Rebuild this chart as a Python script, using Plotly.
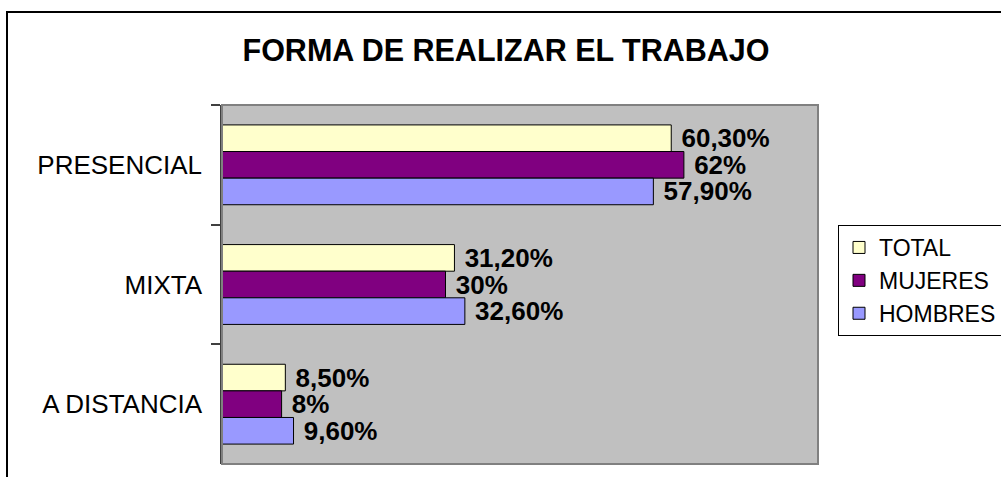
import plotly.graph_objects as go

categories = ["PRESENCIAL", "MIXTA", "A DISTANCIA"]
series_names = ["TOTAL", "MUJERES", "HOMBRES"]
total = [60.3, 31.2, 8.5]
mujeres = [62, 30, 8]
hombres = [57.9, 32.6, 9.6]
colors = ["#FFFFCC", "#800080", "#9999FF"]


def fmt(v):
    if float(v).is_integer():
        s = f"{int(v)}%"
    else:
        s = f"{v:.2f}".replace(".", ",") + "%"
    return "\u00a0" + s


FONT = "Arial, 'Liberation Sans', sans-serif"

fig = go.Figure()
for name, vals, col in zip(series_names, [total, mujeres, hombres], colors):
    fig.add_trace(go.Bar(
        name=name,
        y=categories,
        x=vals,
        orientation="h",
        marker=dict(color=col, line=dict(color="#000000", width=1)),
        text=[fmt(v) for v in vals],
        textposition="outside",
        constraintext="none",
        cliponaxis=False,
        textfont=dict(family=FONT, size=26, color="#000000", weight="bold"),
        hoverinfo="skip",
    ))

W, H = 1001, 477
L, T = 222, 105
R = W - 818
B = H - 464
pw, ph = W - L - R, H - T - B


def px_x(p):
    return (p - L) / pw


def px_y(p):
    return (H - B - p) / ph


fig.update_layout(
    width=W, height=H,
    margin=dict(l=L, r=R, t=T, b=B, autoexpand=False),
    paper_bgcolor="#FFFFFF",
    plot_bgcolor="#C0C0C0",
    barmode="group",
    bargap=0.333,
    bargroupgap=0,
    font=dict(family=FONT, color="#000000"),
    title=dict(
        text="<b>FORMA DE REALIZAR EL TRABAJO</b>",
        font=dict(family=FONT, size=30.5, color="#000000"),
        xref="container", x=506 / W, xanchor="center",
        yref="container", y=1 - 50 / H, yanchor="middle",
    ),
    xaxis=dict(
        range=[0, 80], showgrid=False, zeroline=False,
        showticklabels=False, ticks="", showline=False, fixedrange=True,
    ),
    yaxis=dict(
        autorange="reversed",
        showgrid=False, zeroline=False,
        ticks="outside", ticklen=9, tickwidth=1.5, tickcolor="#404040",
        tickson="boundaries",
        showline=True, linecolor="#404040", linewidth=1.5,
        tickfont=dict(family=FONT, size=26, color="#000000"),
        ticklabelstandoff=13,
        fixedrange=True,
    ),
    legend=dict(
        x=px_x(838), xanchor="left",
        y=px_y(225), yanchor="top",
        bgcolor="#FFFFFF", bordercolor="#000000", borderwidth=1,
        font=dict(family=FONT, size=23, color="#000000"),
        traceorder="normal",
    ),
    showlegend=True,
    shapes=[
        dict(type="rect", xref="paper", yref="paper",
             x0=0, x1=1, y0=0, y1=1,
             line=dict(color="#808080", width=2), fillcolor="rgba(0,0,0,0)",
             layer="above"),
        dict(type="rect", xref="paper", yref="paper",
             x0=px_x(7), x1=px_x(1100), y0=px_y(600), y1=px_y(12),
             line=dict(color="#000000", width=2), fillcolor="rgba(0,0,0,0)",
             layer="above"),
    ],
)

fig.write_html(
    "out.html",
    config={"displayModeBar": False},
    post_script="document.body.style.margin='0';document.body.style.overflow='hidden';",
)
